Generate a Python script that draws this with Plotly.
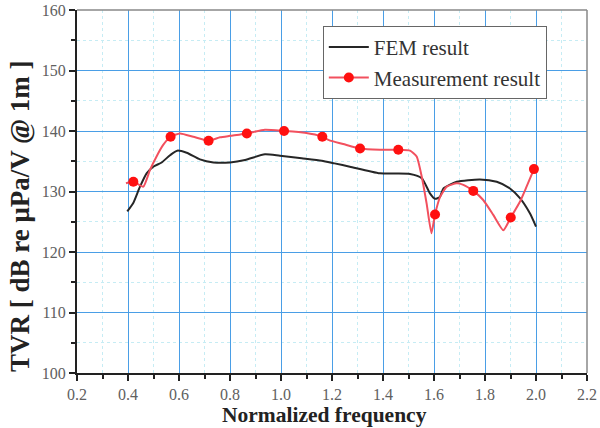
import plotly.graph_objects as go

# FEM result (dense curve)
fem_x = [0.397, 0.42, 0.447, 0.473, 0.499, 0.532, 0.565, 0.593, 0.63, 0.682, 0.735, 0.8,
         0.859, 0.937, 0.996, 1.081, 1.16, 1.21, 1.27, 1.388, 1.506, 1.552, 1.584, 1.604,
         1.623, 1.637, 1.689, 1.78, 1.846, 1.898, 1.937, 1.976, 2.0]
fem_y = [126.7, 128.05, 130.8, 133.0, 134.1, 134.8, 136.0, 136.75, 136.4, 135.3, 134.8, 134.8,
         135.2, 136.15, 135.9, 135.5, 135.1, 134.65, 134.1, 133.0, 132.9, 132.2, 129.7, 128.8,
         129.1, 130.5, 131.6, 132.0, 131.6, 130.5, 128.9, 126.4, 124.2]

# Measurement result (curve)
meas_line_x = [0.392, 0.421, 0.46, 0.486, 0.512, 0.538, 0.567, 0.604, 0.656, 0.716, 0.761, 0.8,
               0.866, 0.937, 1.012, 1.094, 1.162, 1.188, 1.244, 1.31, 1.388, 1.46, 1.506, 1.532,
               1.552, 1.571, 1.59, 1.604, 1.624, 1.65, 1.689, 1.715, 1.754, 1.793, 1.833, 1.872,
               1.901, 1.937, 1.963, 1.992]
meas_line_y = [131.35, 131.6, 130.8, 133.55, 135.8, 137.7, 139.05, 139.6, 139.05, 138.4, 138.95, 139.2,
               139.6, 140.2, 140.0, 139.7, 139.05, 138.5, 137.85, 137.1, 136.9, 136.9, 136.75, 135.8,
               132.45, 128.05, 123.1, 126.2, 129.1, 130.8, 131.35, 131.1, 130.1, 128.6, 126.1, 123.6,
               125.7, 128.3, 130.8, 133.7]

# Measurement points (markers)
meas_x = [0.421, 0.567, 0.716, 0.866, 1.012, 1.162, 1.31, 1.46, 1.604, 1.754, 1.901, 1.992]
meas_y = [131.6, 139.05, 138.4, 139.6, 140.0, 139.05, 137.1, 136.9, 126.2, 130.1, 125.7, 133.7]

x_ticks = [0.2, 0.4, 0.6, 0.8, 1.0, 1.2, 1.4, 1.6, 1.8, 2.0, 2.2]
x_ticklabels = ["0.2", "0.4", "0.6", "0.8", "1.0", "1.2", "1.4", "1.6", "1.8", "2.0", "2.2"]
y_ticks = [100, 110, 120, 130, 140, 150, 160]

x_title = "Normalized frequency"
y_title = "TVR [ dB re μPa/V @ 1m ]"

SERIF = "Liberation Serif"
LINE_RED = "#f2505e"
DOT_RED = "#ff1010"

fig = go.Figure()
fig.add_trace(go.Scatter(x=fem_x, y=fem_y, mode="lines", name="FEM result",
                         line=dict(color="#262626", width=2, shape="spline", smoothing=0.6),
                         showlegend=True))
fig.add_trace(go.Scatter(x=meas_line_x, y=meas_line_y, mode="lines",
                         line=dict(color=LINE_RED, width=2, shape="spline", smoothing=0.5),
                         showlegend=False, hoverinfo="skip"))
fig.add_trace(go.Scatter(x=meas_x, y=meas_y, mode="markers",
                         marker=dict(color=DOT_RED, size=10), showlegend=False))
fig.add_trace(go.Scatter(x=[None], y=[None], mode="lines+markers", name="Measurement result",
                         line=dict(color=LINE_RED, width=2),
                         marker=dict(color=DOT_RED, size=10)))

axis_common = dict(
    showline=True, linecolor="#222", linewidth=2,
    ticks="outside", ticklen=6, tickcolor="#222", tickwidth=1.5,
    showgrid=True, gridcolor="#4a9ee6", gridwidth=1.3,
    zeroline=False, automargin=False,
    tickfont=dict(family=SERIF, size=16, color="#606060"),
)

fig.update_xaxes(
    range=[0.2, 2.2], tickvals=x_ticks, ticktext=x_ticklabels,
    minor=dict(dtick=0.1, showgrid=True, gridcolor="#c6ecf4", griddash="dot",
               ticks="outside", ticklen=4, tickcolor="#222"),
    **axis_common)
fig.update_yaxes(
    range=[100, 160], tickvals=y_ticks,
    minor=dict(dtick=5, showgrid=True, gridcolor="#c6ecf4", griddash="dot",
               ticks="outside", ticklen=4, tickcolor="#222"),
    **axis_common)

fig.add_annotation(text="<b>" + x_title + "</b>", xref="paper", yref="paper",
                   x=0.485, y=-0.117, xanchor="center", yanchor="middle", showarrow=False,
                   font=dict(family=SERIF, size=21.5, color="#222"))
fig.add_annotation(text="<b>" + y_title + "</b>", xref="paper", yref="paper",
                   x=-0.112, y=0.432, xanchor="center", yanchor="middle", showarrow=False,
                   textangle=-90, font=dict(family=SERIF, size=27, color="#222"))

fig.add_shape(type="line", xref="paper", yref="paper", x0=0, x1=1, y0=1, y1=1,
              line=dict(color="#888", width=1.5))
fig.add_shape(type="line", xref="paper", yref="paper", x0=1, x1=1, y0=0, y1=1,
              line=dict(color="#888", width=1.5))

fig.update_layout(
    width=600, height=428,
    margin=dict(l=77, r=13, t=10, b=55, autoexpand=False),
    paper_bgcolor="white", plot_bgcolor="white",
    legend=dict(x=0.482, y=0.956, xanchor="left", yanchor="top",
                bgcolor="white", bordercolor="#666", borderwidth=1,
                font=dict(family=SERIF, size=21, color="#333"),
                tracegroupgap=0, itemwidth=40),
)

fig.write_html("out.html")
